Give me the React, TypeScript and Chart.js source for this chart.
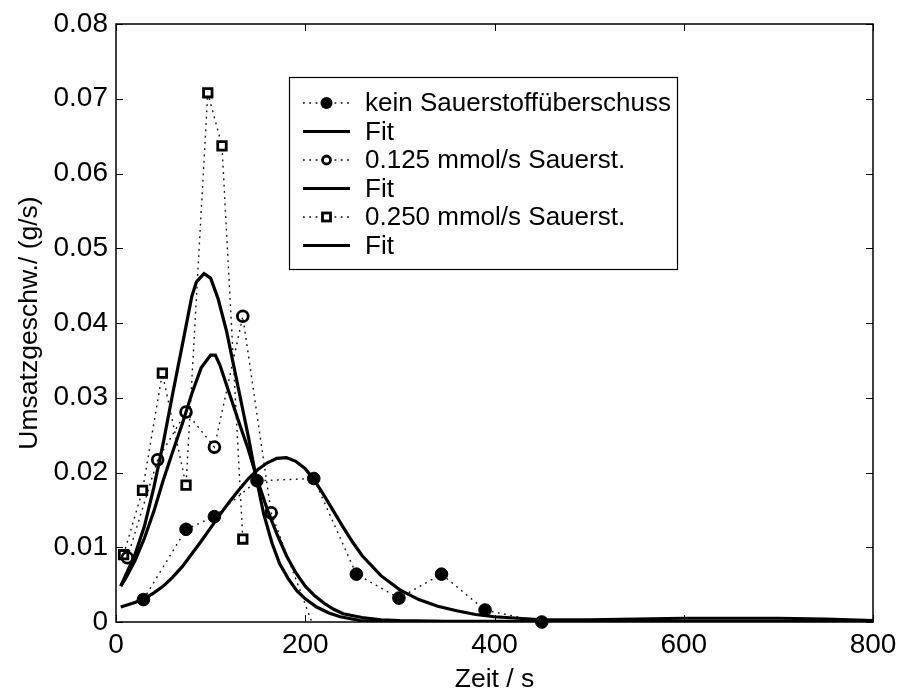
import React, { useEffect, useRef } from 'react';
import { Chart, registerables } from 'chart.js';

Chart.register(...registerables);

// ---- axis ticks ----
const xTickValues = [0, 200, 400, 600, 800];
const xTickLabels = ['0', '200', '400', '600', '800'];
const yTickValues = [0, 0.01, 0.02, 0.03, 0.04, 0.05, 0.06, 0.07, 0.08];
const yTickLabels = ['0', '0.01', '0.02', '0.03', '0.04', '0.05', '0.06', '0.07', '0.08'];

// ---- measured series ----
const keinT = [29, 74, 104, 149, 209, 254, 299, 344, 390, 450];
const keinV = [0.0030, 0.0124, 0.0141, 0.0189, 0.0192, 0.0064, 0.0032, 0.0064, 0.0016, 0.0];

const o125T = [12, 44, 74, 104, 134, 164, 224];
const o125V = [0.0086, 0.0217, 0.0281, 0.0234, 0.0409, 0.0146, -0.0058];

const o250T = [8, 28, 49, 74, 97, 112, 134];
const o250V = [0.0090, 0.0176, 0.0333, 0.0183, 0.0708, 0.0637, 0.0111];

// ---- fit curves ----
const fit1T = [5, 20, 30, 40, 50, 60, 70, 80, 90, 100, 110, 120, 130, 140, 150, 160, 170, 180, 190, 200, 210, 220, 230, 240, 250, 260, 280, 300, 320, 340, 360, 380, 400, 450, 500, 550, 600, 650, 700, 750, 800];
const fit1V = [0.0020, 0.0026, 0.0031, 0.0039, 0.0048, 0.0060, 0.0074, 0.0091, 0.0108, 0.0126, 0.0144, 0.0161, 0.0177, 0.0192, 0.0204, 0.0213, 0.0219, 0.0220, 0.0215, 0.0205, 0.0189, 0.0169, 0.0148, 0.0127, 0.0107, 0.0089, 0.0062, 0.0043, 0.0030, 0.0021, 0.0015, 0.0010, 0.0007, 0.0003, 0.0003, 0.0004, 0.0005, 0.0005, 0.0005, 0.0004, 0.0002];

const fit2T = [5, 10, 20, 30, 40, 50, 60, 70, 80, 90, 100, 105, 110, 120, 130, 140, 150, 160, 170, 180, 190, 200, 210, 220, 230, 240, 260, 280, 300, 350, 400, 500, 600, 700, 800];
const fit2V = [0.0048, 0.0058, 0.0082, 0.0112, 0.0148, 0.0190, 0.0228, 0.0265, 0.0305, 0.0340, 0.0357, 0.0357, 0.0343, 0.0305, 0.0267, 0.0230, 0.0188, 0.0150, 0.0118, 0.0089, 0.0066, 0.0048, 0.0035, 0.0025, 0.0017, 0.0011, 0.0006, 0.0003, 0.0002, 0.0001, 0.0001, 0.0001, 0.0001, 0.0001, 0.0];

const fit3T = [5, 10, 20, 30, 40, 50, 60, 70, 80, 85, 93, 100, 108, 117, 126, 133, 140, 147, 156, 165, 173, 182, 191, 200, 212, 225, 237, 258, 280, 300, 400, 500, 600, 700, 800];
const fit3V = [0.0048, 0.0062, 0.0090, 0.0128, 0.0180, 0.0240, 0.0306, 0.0370, 0.0435, 0.0455, 0.0466, 0.0460, 0.0432, 0.0388, 0.0333, 0.0290, 0.0247, 0.0200, 0.0145, 0.0105, 0.0078, 0.0058, 0.0042, 0.0031, 0.0020, 0.0012, 0.0007, 0.0002, 0.0001, 0.0, 0.0, 0.0, 0.0, 0.0, 0.0];

const labels = [
  'kein Sauerstoffüberschuss',
  'Fit',
  '0.125 mmol/s Sauerst.',
  'Fit',
  '0.250 mmol/s Sauerst.',
  'Fit',
];

const FONT = '"Liberation Sans", Helvetica, Arial, sans-serif';

const pts = (t: number[], v: number[]) => t.map((x, i) => ({ x, y: v[i] }));

const framePlugin = {
  id: 'frameAndLegend',
  afterDraw(chart: any) {
    const { ctx, chartArea: a, scales } = chart;
    ctx.save();
    // box
    ctx.strokeStyle = '#000';
    ctx.lineWidth = 1.5;
    ctx.strokeRect(a.left, a.top, a.right - a.left, a.bottom - a.top);
    // inner ticks
    const L = 7;
    ctx.lineWidth = 1;
    ctx.beginPath();
    xTickValues.forEach((v) => {
      const px = Math.round(scales.x.getPixelForValue(v)) + 0.5;
      ctx.moveTo(px, a.bottom);
      ctx.lineTo(px, a.bottom - L);
      ctx.moveTo(px, a.top);
      ctx.lineTo(px, a.top + L);
    });
    yTickValues.forEach((v) => {
      const py = Math.round(scales.y.getPixelForValue(v)) + 0.5;
      ctx.moveTo(a.left, py);
      ctx.lineTo(a.left + L, py);
      ctx.moveTo(a.right, py);
      ctx.lineTo(a.right - L, py);
    });
    ctx.stroke();

    // legend
    const bx = 289, by = 77, bw = 388, bh = 192;
    ctx.fillStyle = '#fff';
    ctx.fillRect(bx, by, bw, bh);
    ctx.lineWidth = 1.2;
    ctx.strokeStyle = '#000';
    ctx.strokeRect(bx + 0.5, by + 0.5, bw, bh);
    const rowH = 28.5;
    const y0 = 103;
    ctx.font = `26px ${FONT}`;
    ctx.textBaseline = 'middle';
    ctx.textAlign = 'left';
    chart.data.datasets.forEach((ds: any, i: number) => {
      const y = y0 + i * rowH;
      const x1 = 303, x2 = 350, xm = 326.5;
      ctx.save();
      ctx.strokeStyle = ds.borderColor;
      ctx.lineWidth = ds.borderWidth;
      ctx.setLineDash(ds.borderDash || []);
      ctx.beginPath();
      ctx.moveTo(x1, y);
      ctx.lineTo(x2, y);
      ctx.stroke();
      ctx.restore();
      if (ds.pointRadius > 0) {
        ctx.save();
        ctx.setLineDash([]);
        ctx.strokeStyle = '#000';
        ctx.fillStyle = '#000';
        if (ds.pointStyle === 'circle' && ds.legendFilled) {
          ctx.beginPath();
          ctx.arc(xm, y, 6, 0, Math.PI * 2);
          ctx.fill();
        } else if (ds.pointStyle === 'circle') {
          ctx.lineWidth = 2.8;
          ctx.fillStyle = '#fff';
          ctx.beginPath();
          ctx.arc(xm, y, 4, 0, Math.PI * 2);
          ctx.fill();
          ctx.stroke();
        } else {
          ctx.lineWidth = 2.8;
          ctx.fillStyle = '#fff';
          ctx.fillRect(xm - 4, y - 4, 8, 8);
          ctx.strokeRect(xm - 4, y - 4, 8, 8);
        }
        ctx.restore();
      }
      ctx.fillStyle = '#000';
      ctx.fillText(ds.label, 365, y + 1);
    });
    ctx.restore();
  },
};

export default function App() {
  const ref = useRef<HTMLCanvasElement | null>(null);
  useEffect(() => {
    if (!ref.current) return;
    const dotted = { borderColor: '#111', borderWidth: 1.4, borderDash: [1.8, 4.5], showLine: true };
    const fitStyle = { borderColor: '#000', borderWidth: 3.2, pointRadius: 0, showLine: true, borderDash: [] };
    const chart = new Chart(ref.current, {
      type: 'scatter',
      data: {
        datasets: [
          {
            label: labels[0], data: pts(keinT, keinV), ...dotted,
            pointStyle: 'circle', pointRadius: 6.3, pointBorderWidth: 1, pointBackgroundColor: '#000', pointBorderColor: '#000',
            clip: false, legendFilled: true,
          } as any,
          { label: labels[1], data: pts(fit1T, fit1V), ...fitStyle } as any,
          {
            label: labels[2], data: pts(o125T, o125V), ...dotted,
            pointStyle: 'circle', pointRadius: 5.4, pointBorderWidth: 2.8, pointBackgroundColor: 'rgba(0,0,0,0)', pointBorderColor: '#000',
          } as any,
          { label: labels[3], data: pts(fit2T, fit2V), ...fitStyle } as any,
          {
            label: labels[4], data: pts(o250T, o250V), ...dotted,
            pointStyle: 'rect', pointRadius: 6, pointBorderWidth: 2.8, pointBackgroundColor: '#fff', pointBorderColor: '#000',
            clip: false,
          } as any,
          { label: labels[5], data: pts(fit3T, fit3V), ...fitStyle } as any,
        ],
      },
      options: {
        animation: false,
        responsive: false,
        events: [],
        layout: { padding: { left: 0, right: 27, top: 24, bottom: 0 } },
        plugins: { legend: { display: false }, tooltip: { enabled: false } },
        scales: {
          x: {
            type: 'linear', min: 0, max: 800,
            grid: { display: false, drawTicks: false },
            border: { display: false },
            afterBuildTicks: (s: any) => { s.ticks = xTickValues.map((value) => ({ value })); },
            afterFit: (s: any) => { s.height = 71; s.paddingLeft = 0; s.paddingRight = 0; },
            ticks: {
              color: '#000', padding: 6, maxRotation: 0,
              font: { family: FONT, size: 28 },
              callback: (_v: any, i: number) => xTickLabels[i],
            },
            title: {
              display: true, text: 'Zeit / s', color: '#000',
              font: { family: FONT, size: 26.5 }, padding: { top: 0, bottom: -3 },
            },
          },
          y: {
            type: 'linear', min: 0, max: 0.08,
            grid: { display: false, drawTicks: false },
            border: { display: false },
            afterBuildTicks: (s: any) => { s.ticks = yTickValues.map((value) => ({ value })); },
            afterFit: (s: any) => { s.width = 116; s.paddingTop = 0; s.paddingBottom = 0; },
            ticks: {
              color: '#000', padding: 8,
              font: { family: FONT, size: 28 },
              callback: (_v: any, i: number) => yTickLabels[i],
            },
            title: {
              display: true, text: 'Umsatzgeschw./ (g/s)', color: '#000',
              font: { family: FONT, size: 26.5 }, padding: { top: 14, bottom: 0 },
            },
          },
        },
      } as any,
      plugins: [framePlugin],
    });
    return () => chart.destroy();
  }, []);
  return (
    <div style={{ position: 'absolute', left: 0, top: 0, width: 900, height: 693, background: '#fff' }}>
      <canvas ref={ref} width={900} height={693} style={{ display: 'block', width: 900, height: 693 }} />
    </div>
  );
}
